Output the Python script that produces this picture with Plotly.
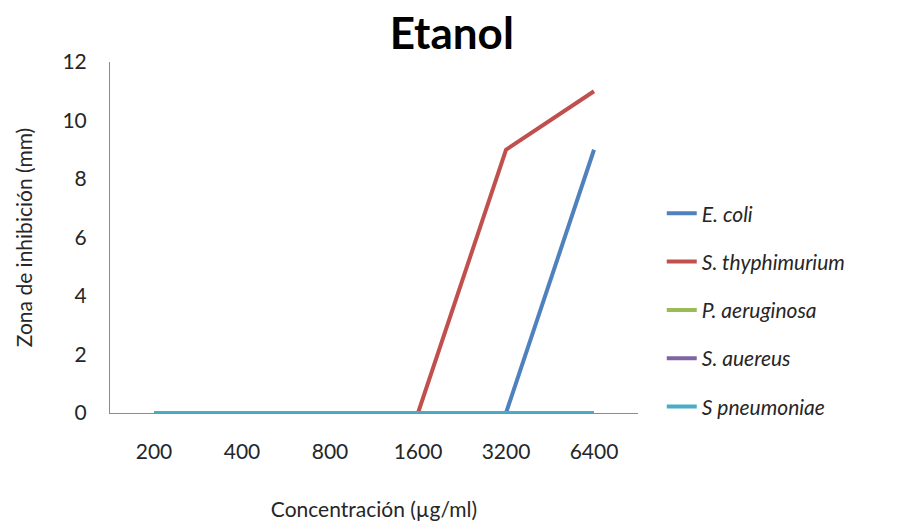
import plotly.graph_objects as go

concentrations = ["200", "400", "800", "1600", "3200", "6400"]
e_coli = [0, 0, 0, 0, 0, 9]
s_thyphimurium = [0, 0, 0, 0, 9, 11]
p_aeruginosa = [0, 0, 0, 0, 0, 0]
s_auereus = [0, 0, 0, 0, 0, 0]
s_pneumoniae = [0, 0, 0, 0, 0, 0]

series = [
    ("E. coli", e_coli, "#4F81BD"),
    ("S. thyphimurium", s_thyphimurium, "#C0504D"),
    ("P. aeruginosa", p_aeruginosa, "#9BBB59"),
    ("S. auereus", s_auereus, "#8064A2"),
    ("S pneumoniae", s_pneumoniae, "#4BACC6"),
]

FONT = "Lato, 'Open Sans', sans-serif"

fig = go.Figure()
for i, (name, vals, color) in enumerate(series):
    fig.add_trace(go.Scatter(
        x=concentrations, y=vals, mode="lines", name=f"<i>{name}</i>",
        line=dict(color=color, width=4), legendgroup=str(i),
    ))

fig.update_layout(
    width=909, height=521,
    margin=dict(l=110, r=271, t=62, b=108, autoexpand=False),
    paper_bgcolor="white", plot_bgcolor="white",
    font=dict(family=FONT, color="#262626", size=21),
    title=dict(text="<b>Etanol</b>", x=0.497, xanchor="center", y=0.935, yanchor="middle",
               font=dict(size=44, color="black", family=FONT)),
    showlegend=True,
    legend=dict(x=1.045, xanchor="left", y=0.293, yanchor="middle",
                font=dict(size=21, color="#262626"), tracegroupgap=18,
                bgcolor="rgba(0,0,0,0)"),
    xaxis=dict(
        type="category", range=[-0.5, 5.5], showgrid=False, zeroline=False,
        showline=True, linecolor="#8c8c8c", linewidth=1, ticks="",
        ticklabelstandoff=20, automargin=False,
        title=dict(text="Concentración (µg/ml)", standoff=40, font=dict(size=21)),
    ),
    yaxis=dict(
        range=[0, 12], dtick=2, showgrid=False, zeroline=False,
        showline=True, linecolor="#8c8c8c", linewidth=1, ticks="",
        ticklabelstandoff=18, automargin=False,
        title=dict(text="Zona de inhibición (mm)", standoff=24, font=dict(size=21)),
    ),
)

fig.write_html("out.html")
